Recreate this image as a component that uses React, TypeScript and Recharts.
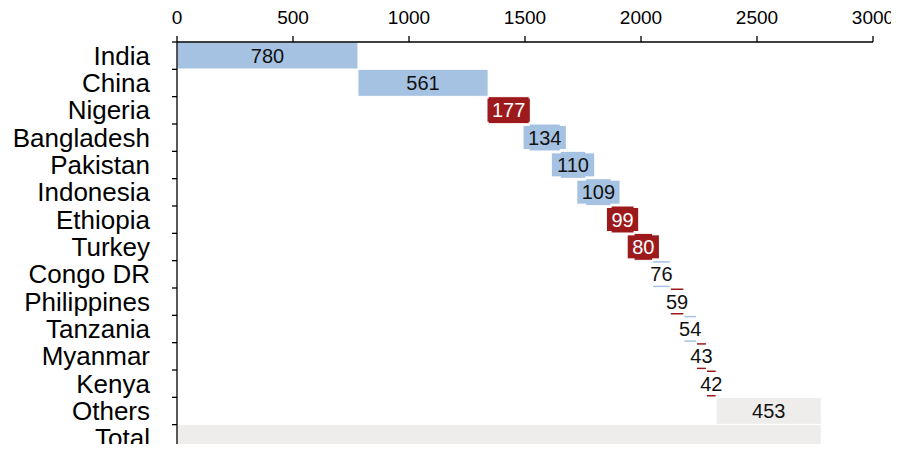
import { BarChart, Bar, XAxis, YAxis } from "recharts";

const CATEGORIES = [
  "India", "China", "Nigeria", "Bangladesh", "Pakistan", "Indonesia", "Ethiopia",
  "Turkey", "Congo DR", "Philippines", "Tanzania", "Myanmar", "Kenya", "Others", "Total",
];
const VALUES = [780, 561, 177, 134, 110, 109, 99, 80, 76, 59, 54, 43, 42, 453];
const KINDS = [
  "blue", "blue", "red", "blue", "blue", "blue", "red",
  "red", "blue", "red", "blue", "red", "red", "grey", "grey",
];
const TICKS = [0, 500, 1000, 1500, 2000, 2500, 3000];

const BLUE = "#a6c2e2";
const RED = "#9d1a1c";
const GREY = "#eeedeb";
const PALETTE: Record<string, string> = { blue: BLUE, red: RED, grey: GREY };

const W = 899;
const H = 452;
const TOP = 42;
const LEFT = 177;
const RIGHT = 26;
const BAND = (H - TOP) / CATEGORIES.length;
const FONT = "'Liberation Sans', Arial, Helvetica, sans-serif";

// waterfall: each step starts where the previous one ended, total starts at 0
const total = VALUES.reduce((a, b) => a + b, 0);
let running = 0;
const data = CATEGORIES.map((name, i) => {
  const isTotal = i === VALUES.length;
  const value = isTotal ? total : VALUES[i];
  const base = isTotal ? 0 : running;
  if (!isTotal) running += value;
  return { name, base, value, colour: PALETTE[KINDS[i]], showLabel: !isTotal };
});

function StepBar(props: any) {
  const { x, y, width, height, payload } = props;
  const cx = x + width / 2;
  const cy = y + height / 2;
  const text = String(payload.value);
  const boxW = text.length * 11.1 + 9;
  const boxH = height - 4;
  const boxFill = payload.value >= 80 ? payload.colour : "#ffffff";
  const textFill = boxFill === RED ? "#ffffff" : "#111111";
  return (
    <g>
      <rect x={x} y={y} width={width} height={height} fill={payload.colour} stroke="#ffffff" strokeWidth={1} />
      {payload.showLabel && (
        <>
          <rect x={cx - boxW / 2} y={cy - boxH / 2} width={boxW} height={boxH} fill={boxFill} />
          <text x={cx} y={cy} dy="0.36em" textAnchor="middle" fontSize={20} fill={textFill} fontFamily={FONT}>
            {text}
          </text>
        </>
      )}
    </g>
  );
}

function CategoryTick({ y, payload }: any) {
  const edge = y - BAND / 2;
  return (
    <g>
      <line x1={LEFT - 5} x2={LEFT} y1={edge} y2={edge} stroke="#000" strokeWidth={1.3} />
      <text x={LEFT - 27} y={y} dy="0.35em" textAnchor="end" fontSize={26} fill="#000" fontFamily={FONT}>
        {payload.value}
      </text>
    </g>
  );
}

export default function App() {
  return (
    <div style={{ margin: -8, width: W, height: 452, overflow: "hidden", background: "#fff", fontFamily: FONT }}>
      <BarChart
        width={W}
        height={H}
        data={data}
        layout="vertical"
        margin={{ top: 0, right: RIGHT, bottom: 0, left: 0 }}
        barCategoryGap={0}
      >
        <XAxis
          type="number"
          orientation="top"
          domain={[0, 3000]}
          ticks={TICKS}
          height={TOP}
          axisLine={{ stroke: "#000", strokeWidth: 1.3 }}
          tickLine={{ stroke: "#000", strokeWidth: 1.3 }}
          tickSize={6}
          tickMargin={12}
          tick={{ fontSize: 19, fill: "#000", fontFamily: FONT }}
        />
        <YAxis
          type="category"
          dataKey="name"
          width={LEFT}
          interval={0}
          axisLine={{ stroke: "#000", strokeWidth: 1.3 }}
          tickLine={false}
          tick={<CategoryTick />}
        />
        <Bar dataKey="base" stackId="w" fill="transparent" isAnimationActive={false} />
        <Bar dataKey="value" stackId="w" shape={<StepBar />} isAnimationActive={false} />
      </BarChart>
    </div>
  );
}
